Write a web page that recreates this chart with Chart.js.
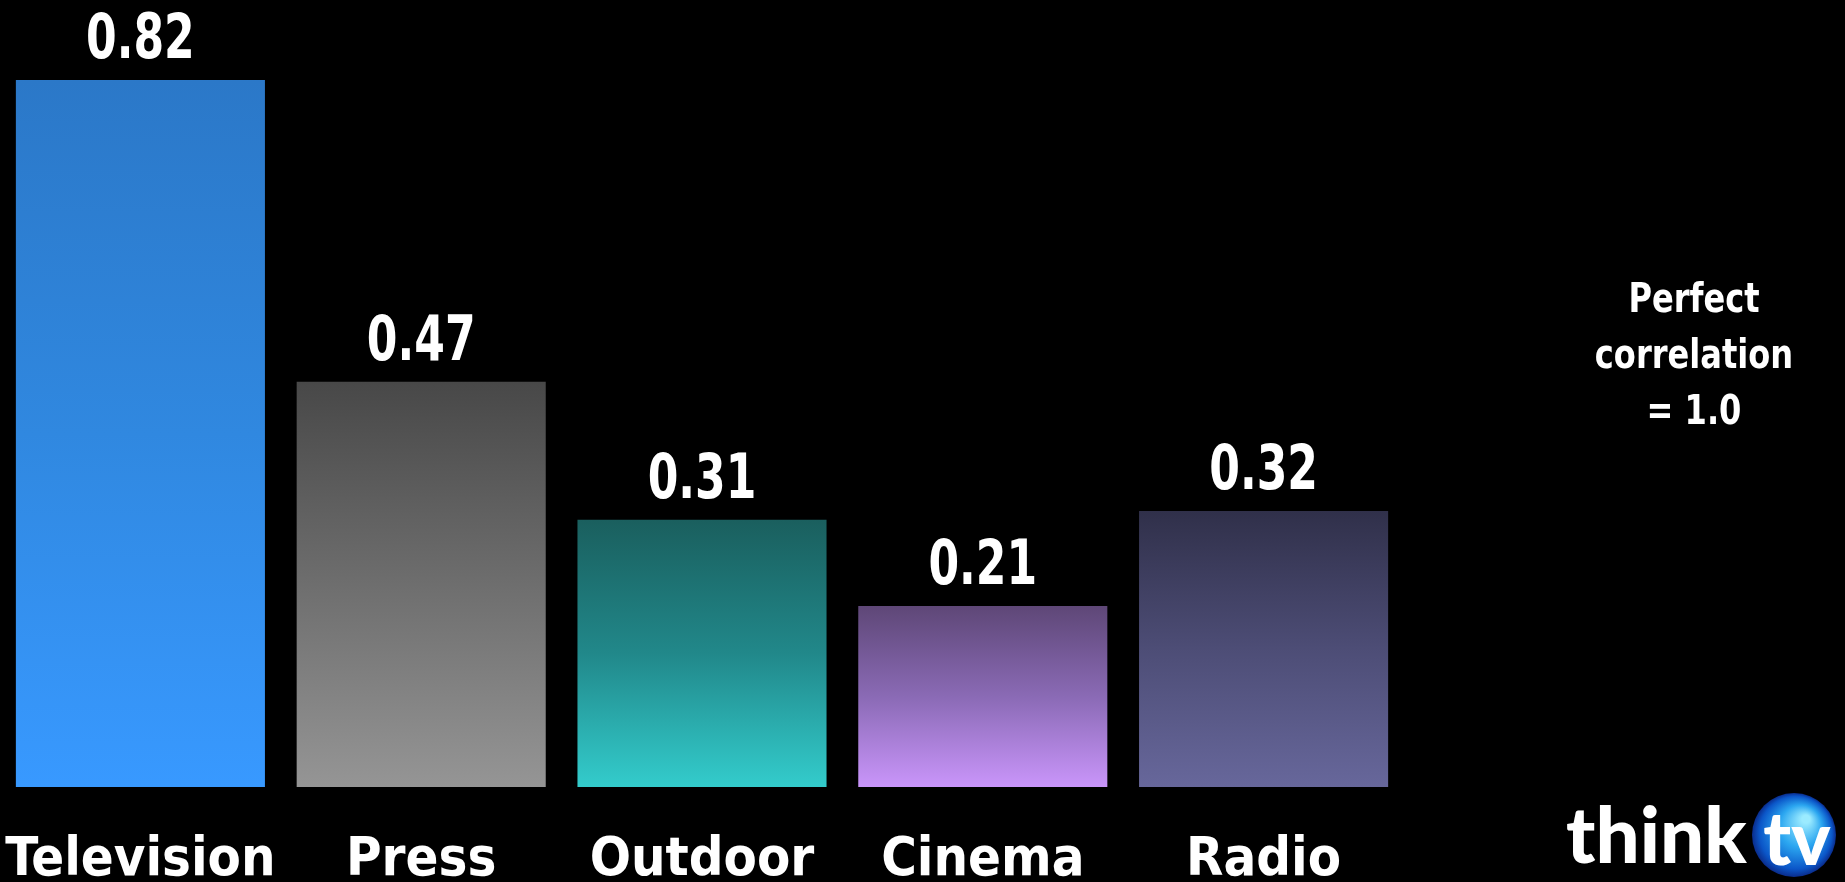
<!DOCTYPE html>
<html><head><meta charset="utf-8">
<script src="https://cdn.jsdelivr.net/npm/chart.js@4/dist/chart.umd.min.js"></script>
<style>html,body{margin:0;padding:0;background:#000;overflow:hidden}#wrap{width:1845px;height:882px;position:relative}</style>
</head><body><div id="wrap"><canvas id="c" width="1845" height="882"></canvas></div>
<script>
const categories = ['Television', 'Press', 'Outdoor', 'Cinema', 'Radio'];
const values = [0.82, 0.47, 0.31, 0.21, 0.32];
const valueLabels = ['0.82', '0.47', '0.31', '0.21', '0.32'];
const gradientTop = ['#2B78C8', '#484848', '#1A5F5E', '#5E4777', '#30304A'];
const gradientMid = ['#3088E0', '#6E6E6E', '#21888A', '#8A6AB5', '#4D4D76'];
const gradientBottom = ['#3899FF', '#959595', '#33CCCC', '#C995FA', '#67679B'];
const noteLines = ['Perfect', 'correlation', '= 1.0'];
const logoWord = 'think';
const logoBadge = 'tv';

const FONT = "'DejaVu Sans Condensed','Liberation Sans Narrow',sans-serif";
const X_LABEL_SIZE = 54;
const X_LABEL_BAND = 148;

const barGradient = (ctx) => {
  const chart = ctx.chart, area = chart.chartArea, i = ctx.dataIndex;
  if (!area || ctx.type !== 'data' || !chart.scales.y) return gradientBottom[i];
  const top = chart.scales.y.getPixelForValue(values[i]);
  const g = chart.ctx.createLinearGradient(0, top, 0, area.bottom);
  g.addColorStop(0, gradientTop[i]);
  g.addColorStop(0.5, gradientMid[i]);
  g.addColorStop(1, gradientBottom[i]);
  return g;
};

function condensedText(ctx, text, x, y, sx) {
  ctx.save();
  ctx.translate(x, y);
  ctx.scale(sx, 1);
  ctx.fillText(text, 0, 0);
  ctx.restore();
}

const valueLabelPlugin = {
  id: 'valueLabels',
  afterDatasetsDraw(chart) {
    const ctx = chart.ctx;
    const meta = chart.getDatasetMeta(0);
    ctx.save();
    ctx.fillStyle = '#ffffff';
    ctx.font = 'bold 62px ' + FONT;
    ctx.textAlign = 'center';
    ctx.textBaseline = 'alphabetic';
    meta.data.forEach((bar, i) => condensedText(ctx, valueLabels[i], bar.x, bar.y - 22, 0.79));
    ctx.restore();
  }
};

const notePlugin = {
  id: 'note',
  afterDraw(chart) {
    const ctx = chart.ctx;
    ctx.save();
    ctx.fillStyle = '#ffffff';
    ctx.font = 'bold 41px ' + FONT;
    ctx.textAlign = 'center';
    ctx.textBaseline = 'alphabetic';
    noteLines.forEach((t, k) => condensedText(ctx, t, 1694, 312 + k * 56, 0.87));
    ctx.restore();
  }
};

const logoPlugin = {
  id: 'logo',
  afterDraw(chart) {
    const ctx = chart.ctx;
    ctx.save();
    ctx.fillStyle = '#ffffff';
    ctx.font = '900 78px Lato, sans-serif';
    ctx.textAlign = 'left';
    ctx.textBaseline = 'alphabetic';
    ctx.fillText(logoWord, 1566, 863);
    const cx = 1794, cy = 835, r = 42;
    const g = ctx.createRadialGradient(cx + 12, cy - 16, 4, cx, cy, r);
    g.addColorStop(0, '#9BEBFF');
    g.addColorStop(0.45, '#2BA6F0');
    g.addColorStop(0.85, '#0B56C8');
    g.addColorStop(1, '#0A2C8C');
    ctx.fillStyle = g;
    ctx.beginPath();
    ctx.arc(cx, cy, r, 0, Math.PI * 2);
    ctx.fill();
    ctx.fillStyle = '#ffffff';
    ctx.font = '900 74px Lato, sans-serif';
    ctx.textAlign = 'center';
    ctx.fillText(logoBadge, 1797, 865);
    ctx.restore();
  }
};

new Chart(document.getElementById('c'), {
  type: 'bar',
  data: {
    labels: categories,
    datasets: [{
      data: values,
      backgroundColor: barGradient,
      borderWidth: 0,
      barPercentage: 0.887,
      categoryPercentage: 1.0
    }]
  },
  options: {
    responsive: false,
    animation: false,
    devicePixelRatio: 1,
    layout: { padding: { top: 11, right: 441, bottom: -53, left: 0 } },
    plugins: { legend: { display: false }, tooltip: { enabled: false }, title: { display: false } },
    scales: {
      x: {
        grid: { display: false, drawTicks: false },
        border: { display: false },
        ticks: {
          color: '#ffffff',
          font: { family: FONT, size: X_LABEL_SIZE, weight: 'bold', lineHeight: X_LABEL_BAND / X_LABEL_SIZE },
          padding: 0,
          maxRotation: 0,
          minRotation: 0,
          autoSkip: false
        }
      },
      y: {
        display: false,
        min: 0,
        max: 0.9
      }
    }
  },
  plugins: [valueLabelPlugin, notePlugin, logoPlugin]
});
</script>
</body></html>
